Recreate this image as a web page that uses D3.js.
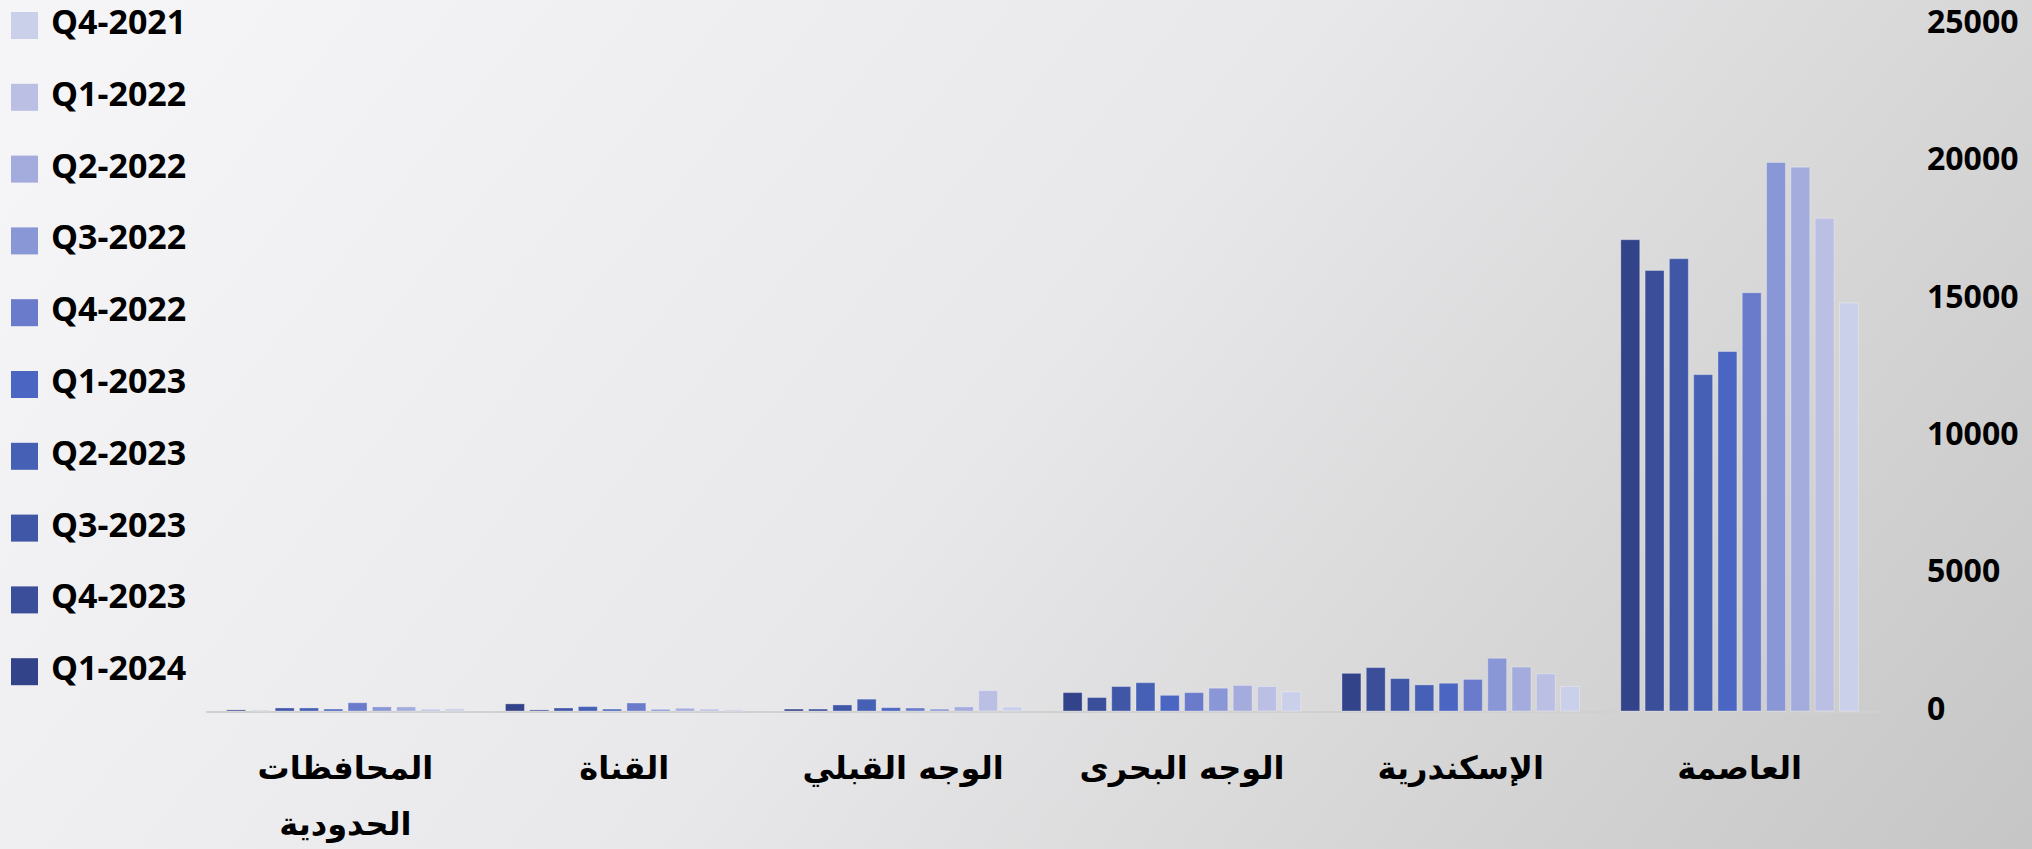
<!DOCTYPE html>
<html>
<head>
<meta charset="utf-8">
<script src="https://cdn.jsdelivr.net/npm/d3@7"></script>
<style>
  html, body { margin: 0; padding: 0; overflow: hidden; }
  svg { display: block; }
  .legend-text { font-family: "Open Sans", sans-serif; font-weight: 700; font-size: 34px; fill: #000; }
  .y-axis text { font-family: "Open Sans", sans-serif; font-weight: 700; font-size: 32px; fill: #000; }
  .cat-label { font-family: "DejaVu Sans", "Noto Sans", sans-serif; font-weight: 700; font-size: 32px; fill: #000; }
</style>
</head>
<body>
<svg id="chart"></svg>
<script>
// regions, in reading order (right to left on screen)
const categories = ["العاصمة", "الإسكندرية", "الوجه البحرى", "الوجه القبلي", "القناة", "المحافظات الحدودية"];
const quarters = ["Q4-2021", "Q1-2022", "Q2-2022", "Q3-2022", "Q4-2022", "Q1-2023", "Q2-2023", "Q3-2023", "Q4-2023", "Q1-2024"];
const colors = ["#cbd0ea", "#bbbfe3", "#a3acdc", "#8a97d6", "#6a7bcc", "#4b66c2", "#4660b5", "#4057a8", "#3a4e9a", "#33438a"];
const yTicks = [0, 5000, 10000, 15000, 20000, 25000];

// values per region, Q4-2021 .. Q1-2024
const capital = [14850, 17930, 19790, 19960, 15220, 13080, 12240, 16460, 16030, 17150];
const alexandria = [890, 1350, 1600, 1920, 1150, 1010, 950, 1180, 1580, 1370];
const lowerEgypt = [700, 890, 930, 830, 670, 570, 1030, 890, 490, 670];
const upperEgypt = [150, 740, 150, 70, 110, 120, 430, 220, 70, 70];
const canal = [50, 70, 100, 60, 290, 70, 160, 110, 40, 260];
const frontier = [85, 60, 150, 150, 300, 70, 110, 110, 5, 40];

const regionValues = [capital, alexandria, lowerEgypt, upperEgypt, canal, frontier];
const rows = categories.map((c, i) => ({
  name: c,
  values: quarters.map((q, j) => ({ key: q, value: regionValues[i][j] }))
}));

const width = 2032, height = 849;
const svg = d3.select("#chart").attr("width", width).attr("height", height);

// background
const defs = svg.append("defs");
const bg = defs.append("linearGradient")
  .attr("id", "bg")
  .attr("gradientUnits", "userSpaceOnUse")
  .attr("x1", 300).attr("y1", -200)
  .attr("x2", 1900).attr("y2", 1100);
bg.append("stop").attr("offset", "0").attr("stop-color", "#f5f4f6");
bg.append("stop").attr("offset", "0.45").attr("stop-color", "#e8e7e9");
bg.append("stop").attr("offset", "1").attr("stop-color", "#c4c4c4");
svg.append("rect").attr("width", width).attr("height", height).attr("fill", "url(#bg)");

const plot = { left: 206, right: 1879, top: 24, bottom: 711 };

// RTL: first region on the right, newest quarter on the left inside each group
const x0 = d3.scaleBand()
  .domain(categories.slice().reverse())
  .range([plot.left, plot.right]);

const x1 = d3.scaleBand()
  .domain(quarters.slice().reverse())
  .range([0, x0.bandwidth()])
  .paddingInner(0.22)
  .paddingOuter(0.85);

const y = d3.scaleLinear()
  .domain([0, 25000])
  .range([plot.bottom, plot.top]);

const color = d3.scaleOrdinal().domain(quarters).range(colors);

// baseline
svg.append("line")
  .attr("x1", plot.left).attr("x2", plot.right)
  .attr("y1", y(0) + 1).attr("y2", y(0) + 1)
  .attr("stroke", "#d0d0d0")
  .attr("stroke-width", 2);

// bars
const groups = svg.append("g")
  .selectAll("g")
  .data(rows)
  .join("g")
  .attr("transform", (d) => `translate(${x0(d.name)},0)`);

groups.selectAll("rect")
  .data((d) => d.values)
  .join("rect")
  .attr("x", (d) => x1(d.key))
  .attr("y", (d) => y(d.value))
  .attr("width", x1.bandwidth())
  .attr("height", (d) => y(0) - y(d.value))
  .attr("fill", (d) => color(d.key))
  .attr("stroke", "rgba(255,255,255,0.3)")
  .attr("stroke-width", 1);

// y axis on the right
const yAxis = svg.append("g")
  .attr("class", "y-axis")
  .attr("transform", `translate(1927,-2)`)
  .call(d3.axisRight(y).tickValues(yTicks).tickSize(0).tickPadding(0).tickFormat(d3.format("d")));
yAxis.select(".domain").remove();

// category labels (long one wraps to two lines)
const catLabels = svg.append("g")
  .selectAll("text")
  .data(categories)
  .join("text")
  .attr("class", "cat-label")
  .attr("text-anchor", "middle")
  .attr("direction", "rtl")
  .attr("x", (d) => x0(d) + x0.bandwidth() / 2)
  .attr("y", 779);

catLabels.each(function (d) {
  const words = d.split(" ");
  const t = d3.select(this);
  const cx = x0(d) + x0.bandwidth() / 2;
  if (words.length > 1 && d.length > 14) {
    t.append("tspan").attr("x", cx).attr("dy", 0).text(words[0]);
    t.append("tspan").attr("x", cx).attr("dy", 56).text(words.slice(1).join(" "));
  } else {
    t.text(d);
  }
});

// legend, top-left, oldest quarter first
const legend = svg.append("g")
  .selectAll("g")
  .data(quarters)
  .join("g")
  .attr("transform", (d, i) => `translate(11, ${12 + i * 71.8})`);

legend.append("rect")
  .attr("width", 27)
  .attr("height", 27)
  .attr("fill", (d) => color(d));

legend.append("text")
  .attr("class", "legend-text")
  .attr("x", 40)
  .attr("y", 22)
  .text((d) => d);
</script>
</body>
</html>
